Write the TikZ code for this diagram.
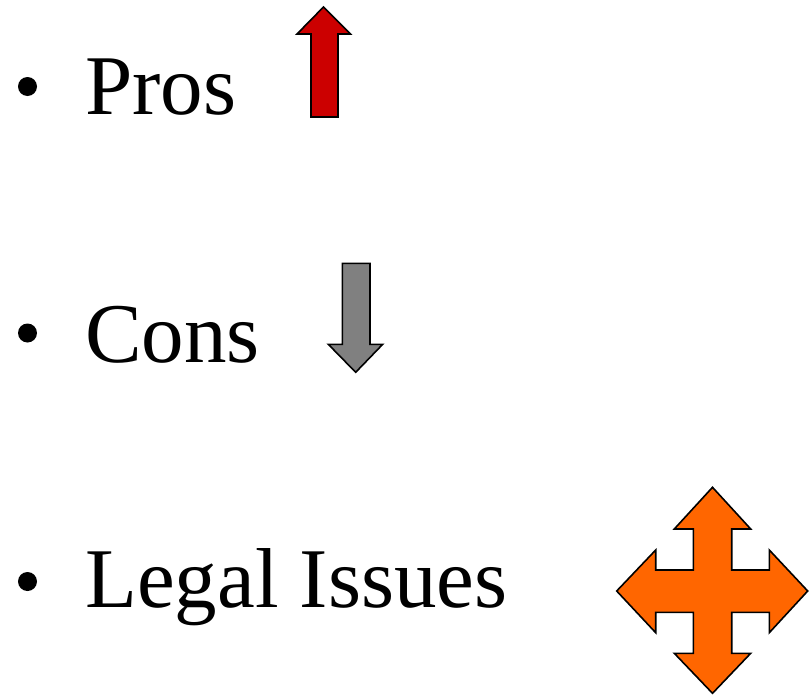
\documentclass[tikz,border=0pt]{standalone}
\usepackage{fontspec}
\setmainfont{Liberation Serif}
\usepackage{tikz}
\usetikzlibrary{positioning}

\definecolor{prosred}{HTML}{CC0000}
\definecolor{consgray}{HTML}{808080}
\definecolor{legalorange}{HTML}{FF6600}

\begin{document}
\begin{tikzpicture}[x=1pt, y=-1pt,
    item/.style={anchor=base west, inner sep=0pt, font=\fontsize{85}{85}\selectfont},
    dot/.style={circle, fill=black, inner sep=0pt, minimum size=19pt},
    arrowshape/.style={draw=black, line width=1.6pt, line join=miter}]

            \useasboundingbox (0,0) rectangle (809,696);

            % Draw the bullets
            \node[dot] (b1) at (27.5,86.5) {};
            \node[dot] (b2) at (27.5,333) {};
            \node[dot] (b3) at (27.5,581.5) {};

            % Draw the item texts
            \node[item] (pros) at (85,114) {Pros};
            \node[item] (cons) at (85,362) {Cons};
            \node[item] (legal) at (85,607.5) {Legal Issues};

            % Draw the up arrow
            \draw[arrowshape, fill=prosred] (323.5,7) -- (350.5,34) -- (338,34) -- (338,117)
                -- (311,117) -- (311,34) -- (297,34) -- cycle;

            % Draw the down arrow
            \draw[arrowshape, fill=consgray] (342.3,263.3) -- (370,263.3) -- (370,344.3)
                -- (382.7,344.3) -- (355.7,372.3) -- (328.3,344.3) -- (342.3,344.3) -- cycle;

            % Draw the four way arrow
            \draw[arrowshape, fill=legalorange] (712.5,487.3) -- (750.7,529) -- (731.7,529)
                -- (731.7,570) -- (769.3,570) -- (769.3,550) -- (807.7,591)
                -- (769.3,632.7) -- (769.3,612.3) -- (731.7,612.3) -- (731.7,653.3)
                -- (750.7,653.3) -- (712.5,693.3) -- (674.3,653.3) -- (693.3,653.3)
                -- (693.3,612.3) -- (655.7,612.3) -- (655.7,632.7) -- (616.7,591)
                -- (655.7,550) -- (655.7,570) -- (693.3,570) -- (693.3,529)
                -- (674.3,529) -- cycle;

\end{tikzpicture}
\end{document}
